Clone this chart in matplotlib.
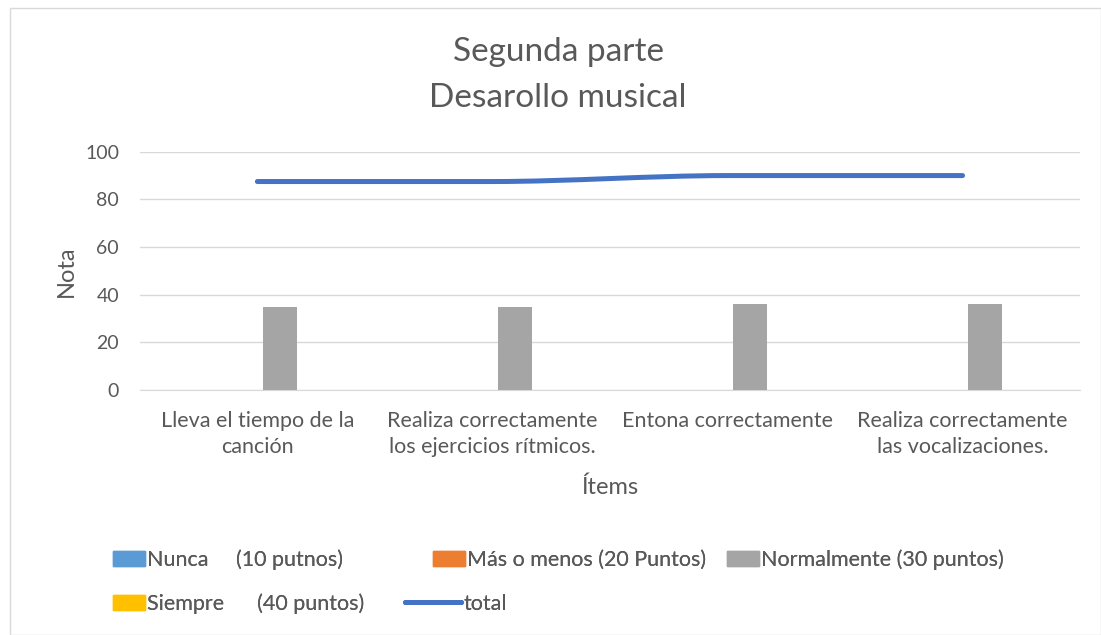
import numpy as np
import matplotlib.pyplot as plt
from matplotlib.path import Path
from matplotlib.patches import PathPatch, Rectangle, Patch
from matplotlib.lines import Line2D

plt.rcParams['font.family'] = ['Lato', 'DejaVu Sans']

items = ['Lleva el tiempo de la\ncanción',
         'Realiza correctamente\nlos ejercicios rítmicos.',
         'Entona correctamente',
         'Realiza correctamente\nlas vocalizaciones.']
nunca = [0, 0, 0, 0]
mas_menos = [0, 0, 0, 0]
normalmente = [35, 35, 36, 36]
siempre = [0, 0, 0, 0]
total = [87.5, 87.5, 90, 90]

series_names = ['Nunca     (10 putnos)', 'Más o menos (20 Puntos)',
                'Normalmente (30 puntos)', 'Siempre      (40 puntos)']
series_colors = ['#5B9BD5', '#ED7D31', '#A5A5A5', '#FFC000']
line_color = '#4472C4'
txt = '#595959'

fig = plt.figure(figsize=(11.01, 6.35), dpi=100)
fig.patches.append(Rectangle((10 / 1101, 0), 1 - 10 / 1101, 1 - 8 / 635,
                             transform=fig.transFigure, fill=False,
                             edgecolor='#d9d9d9', linewidth=1))

ax = fig.add_axes([0.127, 0.386, 0.854, 0.375])
x = np.arange(len(items))
step = 0.19
width = 0.145
for i, (vals, col) in enumerate(zip([nunca, mas_menos, normalmente, siempre], series_colors)):
    ax.bar(x + (i - 1.5) * step, vals, width, color=col, zorder=3)

# smoothed line: bezier segments, flat tangents where the value doesn't change
xs = x.astype(float)
ys = np.array(total, dtype=float)
n = len(ys)
tang = np.zeros(n)
for k in range(n):
    lo, hi = max(k - 1, 0), min(k + 1, n - 1)
    if 0 < k < n - 1 and (ys[k] - ys[k - 1]) * (ys[k + 1] - ys[k]) <= 0:
        tang[k] = 0
    else:
        tang[k] = (ys[hi] - ys[lo]) / (xs[hi] - xs[lo])
verts = [(xs[0], ys[0])]
codes = [Path.MOVETO]
for k in range(n - 1):
    d = (xs[k + 1] - xs[k]) / 3
    verts += [(xs[k] + d, ys[k] + tang[k] * d),
              (xs[k + 1] - d, ys[k + 1] - tang[k + 1] * d),
              (xs[k + 1], ys[k + 1])]
    codes += [Path.CURVE4] * 3
ax.add_patch(PathPatch(Path(verts, codes), fill=False, edgecolor=line_color,
                       linewidth=3.6, capstyle='round', zorder=4))

ax.set_xlim(-0.5, len(items) - 0.5)
ax.set_ylim(0, 100)
ax.set_yticks(range(0, 101, 20))
ax.grid(axis='y', color='#d9d9d9', linewidth=1, zorder=0)
for s in ['top', 'right', 'left']:
    ax.spines[s].set_visible(False)
ax.spines['bottom'].set_color('#d9d9d9')
ax.tick_params(length=0, colors=txt)
ax.tick_params(axis='y', labelsize=14, pad=15)
ax.set_xticks(x)
ax.set_xticklabels(items, linespacing=1.4)
ax.tick_params(axis='x', labelsize=15.5, pad=15)
ax.set_ylabel('Nota', fontsize=17, color=txt, labelpad=6)
ax.set_xlabel('Ítems', fontsize=17, color=txt, labelpad=14)

fig.text(0.507, 0.918, 'Segunda parte', ha='center', va='center', fontsize=24, color=txt)
fig.text(0.507, 0.845, 'Desarollo musical', ha='center', va='center', fontsize=24, color=txt)

handles = [Patch(color=c) for c in series_colors]
line_h = Line2D([], [], color=line_color, linewidth=3.6, solid_capstyle='round')
entries = [(handles[0], series_names[0], 113, 560, 1.5),
           (handles[1], series_names[1], 433, 560, 1.5),
           (handles[2], series_names[2], 727, 560, 1.5),
           (handles[3], series_names[3], 113, 604, 1.5),
           (line_h, 'total', 405, 604, 2.6)]
for h, lab, px, py, hl in entries:
    leg = fig.legend([h], [lab], frameon=False, fontsize=15.5, labelcolor=txt,
                     handlelength=hl, handleheight=0.7, handletextpad=0.1,
                     borderpad=0, borderaxespad=0, loc='center left',
                     bbox_to_anchor=(px / 1101, 1 - py / 635))
    fig.add_artist(leg)

fig.savefig('out.png', dpi=100)
